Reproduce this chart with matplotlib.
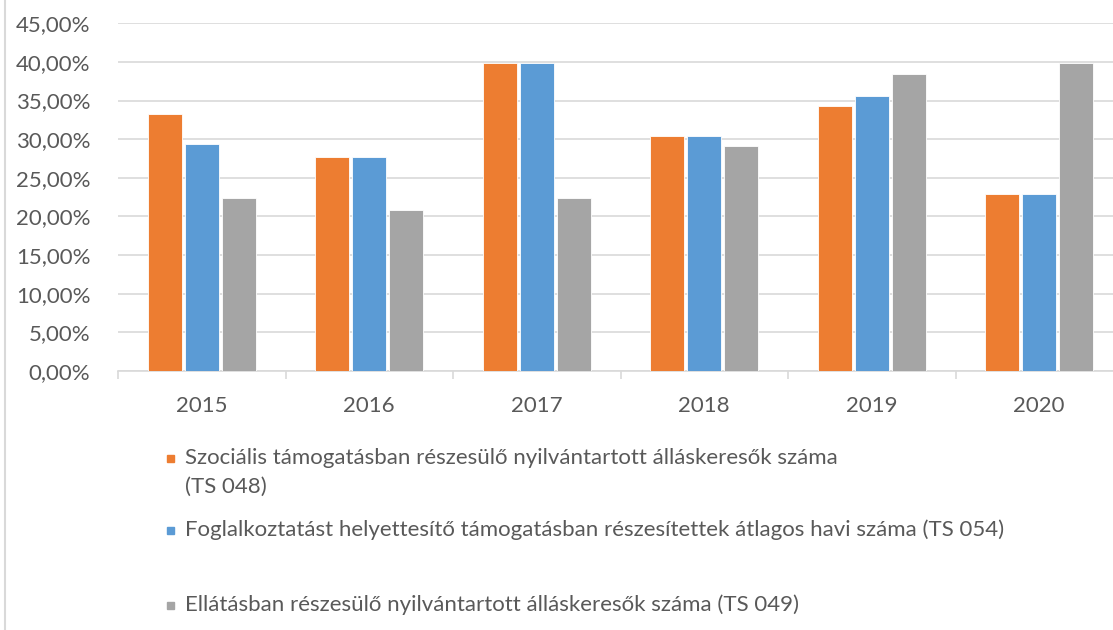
import matplotlib
matplotlib.use('Agg')
import matplotlib.pyplot as plt
import numpy as np
from matplotlib.ticker import FuncFormatter
from matplotlib.patches import Rectangle

plt.rcParams['font.family'] = ['Lato', 'DejaVu Sans']

years = ['2015', '2016', '2017', '2018', '2019', '2020']
szocialis = [33.3, 27.7, 39.8, 30.4, 34.3, 22.9]   # TS 048
foglalkoztatast = [29.4, 27.7, 39.8, 30.4, 35.6, 22.9]   # TS 054
ellatas = [22.4, 20.9, 22.4, 29.1, 38.5, 39.8]   # TS 049

labels = [['Szociális támogatásban részesülő nyilvántartott álláskeresők száma', '(TS 048)'],
          ['Foglalkoztatást helyettesítő támogatásban részesítettek átlagos havi száma (TS 054)'],
          ['Ellátásban részesülő nyilvántartott álláskeresők száma (TS 049)']]
colors = ['#ED7D31', '#5B9BD5', '#A5A5A5']
txt = '#595959'

fig = plt.figure(figsize=(11.13, 6.30), dpi=100)
ax = fig.add_axes([118/1113, 1-371/630, 1005/1113, (371-23.3)/630])

x = np.arange(len(years))
w = 0.203
step = 0.221
for k, (vals, c) in enumerate(zip([szocialis, foglalkoztatast, ellatas], colors)):
    ax.bar(x + (k-1)*step, vals, w, color=c, edgecolor='white', linewidth=0.6, zorder=3)

ax.set_xlim(-0.5, len(years)-0.5)
ax.set_ylim(0, 45)
ax.set_yticks(np.arange(0, 46, 5))
ax.yaxis.set_major_formatter(FuncFormatter(lambda v, p: ('%.2f' % v).replace('.', ',') + '%'))
ax.set_xticks(x)
ax.set_xticklabels(years)
ax.set_xticks(np.arange(-0.5, len(years), 1), minor=True)
ax.grid(axis='y', color='#D9D9D9', linewidth=1.2, zorder=0)
for s in ['top', 'right', 'left']:
    ax.spines[s].set_visible(False)
ax.spines['bottom'].set_color('#D9D9D9')
ax.spines['bottom'].set_linewidth(1.2)
ax.tick_params(axis='y', length=0, pad=20, labelsize=16, labelcolor=txt)
ax.tick_params(axis='x', which='major', length=0, pad=18, labelsize=16, labelcolor=txt)
ax.tick_params(axis='x', which='minor', length=6, width=1.2, color='#D9D9D9')

# legend
leg_y = [458, 530, 605]
for lines, c, yy in zip(labels, colors, leg_y):
    fig.patches.append(Rectangle((167/1113, 1-(yy+3.5)/630), 7/1113, 7/630,
                                 transform=fig.transFigure, color=c))
    for j, line in enumerate(lines):
        fig.text(185/1113, 1-(yy + 29*j)/630, line, ha='left', va='center',
                 fontsize=16, color=txt)

# image border line on the left
fig.add_artist(plt.Line2D([5/1113, 5/1113], [0, 1], transform=fig.transFigure,
                          color='#D9D9D9', linewidth=1.5))

fig.savefig('out.png', dpi=100)
